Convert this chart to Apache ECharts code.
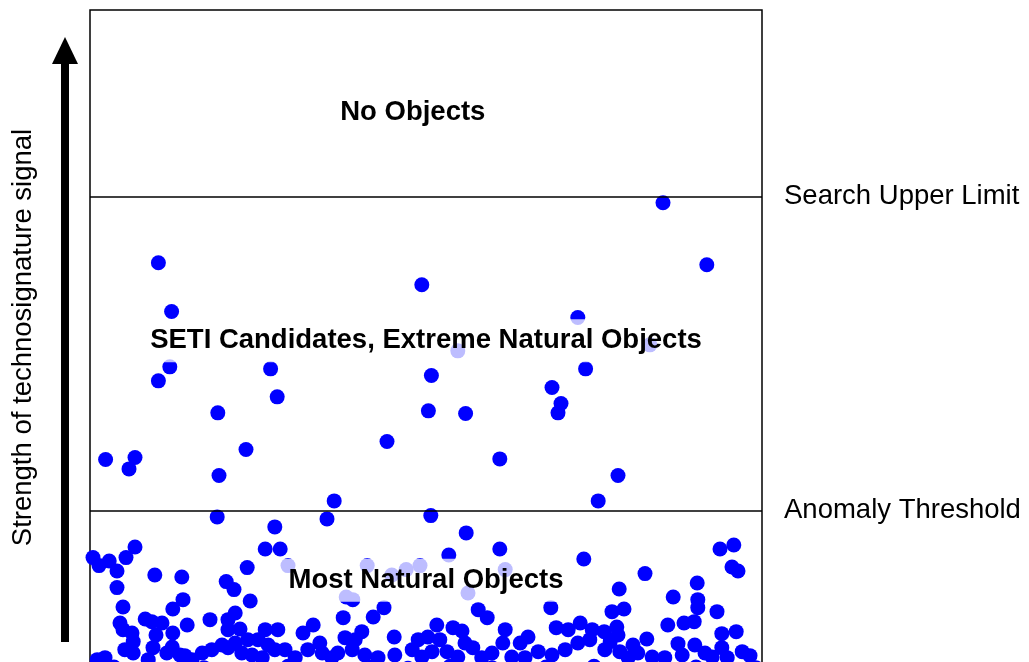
<!DOCTYPE html>
<html>
<head>
<meta charset="utf-8">
<title>Technosignature search regions</title>
<script src="https://cdn.jsdelivr.net/npm/echarts@6/dist/echarts.min.js"></script>
<style>
    html, body { margin: 0; padding: 0; background: #fff; }
    #chart { width: 1029px; height: 662px; }
</style>
</head>
<body>
<div id="chart"></div>
<script>
    // objects above the anomaly threshold
    var candidates = [
        [95.5,71.1],[11.4,62.1],[102.8,61.8],[55.3,58.8],[13.6,54.8],[81.3,53.9],[61.3,48.9],[93.3,49.8],
        [13.3,46.5],[11.4,44.4],[30.1,46.2],[56.9,45.2],[82.6,46.2],[31.2,42.0],[77.0,43.4],[78.5,41.0],
        [78.0,39.6],[21.3,39.6],[56.4,39.9],[62.6,39.5],[49.5,35.3],[26.0,34.1],[2.6,32.6],[7.5,32.9],
        [6.5,31.2],[68.3,32.7],[21.5,30.2],[88.0,30.2],[40.7,26.4],[84.7,26.4]
    ];

    // most natural objects, below the threshold
    var natural = [
        [21.2,24.0],[39.5,23.7],[56.8,24.2],[30.8,22.5],[62.7,21.6],[7.5,19.5],[29.2,19.2],[31.7,19.2],
        [68.3,19.2],[59.8,18.3],[82.3,17.7],[105.0,19.2],[107.3,19.8],[107.0,16.5],[108.0,15.9],[92.5,15.5],
        [0.5,17.9],[1.5,16.7],[3.2,17.4],[4.5,15.9],[4.5,13.4],[6.0,17.9],[10.8,15.3],[15.3,15.0],
        [22.7,14.3],[24.0,13.1],[26.2,16.4],[33.0,16.7],[46.2,16.7],[50.3,15.3],[52.7,16.1],[55.0,16.7],
        [69.2,16.1],[63.0,12.6],[42.7,12.0],[43.8,11.6],[88.2,13.2],[101.2,14.1],[97.2,12.0],[101.3,11.6],
        [101.3,10.4],
        [26.7,11.4],[15.5,11.6],[13.8,10.2],[5.5,10.5],[9.2,8.7],[10.3,8.3],[12.0,8.1],[16.2,7.8],
        [20.0,8.6],[24.2,9.6],[23.0,8.6],[5.0,8.1],[5.5,7.1],[7.0,6.6],[11.0,6.3],[13.8,6.6],
        [23.0,7.1],[25.0,7.2],[7.2,5.3],[26.3,5.6],[10.5,4.4],[5.8,4.1],[7.2,3.6],[13.7,4.5],
        [12.8,3.6],[15.0,3.3],[15.8,3.2],[18.7,3.6],[20.3,4.1],[22.0,4.8],[23.0,4.4],[24.2,5.1],
        [25.3,3.6],[2.5,2.9],[1.2,2.6],[27.0,3.3],[9.7,2.6],[17.0,2.6],
        [42.2,8.9],[47.2,9.0],[49.0,10.4],[50.7,6.0],[29.2,7.1],[31.3,7.1],[35.5,6.6],[37.2,7.8],
        [38.3,5.1],[42.5,5.9],[45.3,6.8],[44.2,5.6],[28.0,5.6],[29.7,4.8],[32.5,4.1],[30.8,4.1],
        [36.3,4.1],[38.7,3.6],[41.3,3.6],[43.7,4.1],[45.8,3.3],[48.0,2.9],[50.8,3.3],[53.7,4.1],
        [54.7,5.6],[55.3,3.0],[28.7,2.9],[34.2,2.9],[40.3,2.9],
        [64.7,10.1],[66.2,8.9],[76.8,10.4],[57.8,7.8],[60.5,7.4],[62.0,6.9],[69.2,7.1],[77.7,7.4],
        [79.7,7.1],[81.7,8.1],[83.7,7.1],[73.0,6.0],[71.7,5.1],[68.8,5.1],[62.5,5.1],[63.8,4.4],
        [58.3,5.6],[56.3,6.0],[57.0,3.8],[59.5,3.8],[61.3,3.0],[67.0,3.6],[70.3,3.0],[74.7,3.8],
        [77.0,3.3],[79.2,4.1],[81.3,5.1],[83.3,5.6],[65.3,2.9],[72.5,2.9],
        [87.0,9.8],[89.0,10.2],[104.5,9.8],[96.3,7.8],[99.0,8.1],[100.7,8.3],[105.3,6.5],[107.7,6.8],
        [87.8,7.5],[85.7,6.8],[88.0,6.3],[92.8,5.7],[86.7,5.3],[90.5,4.8],[98.0,5.0],[100.8,4.8],
        [105.3,4.4],[85.8,4.1],[88.3,3.8],[91.3,3.6],[93.7,3.0],[95.8,2.9],[98.7,3.3],[102.5,3.6],
        [103.7,3.0],[108.7,3.8],[110.0,3.2],[89.7,2.9],[106.2,2.9],
        [4.0,1.5],[19.0,1.4],[33.0,1.6],[47.0,1.5],[53.0,1.3],[60.0,1.6],[67.0,1.4],[76.0,1.5],
        [84.0,1.6],[94.0,1.3],[101.0,1.5],[111.0,1.4]
    ];

    var limitNames = ['Search Upper Limit', 'Anomaly Threshold'];
    var limitValues = [72, 25];

    var regionNames = ['No Objects', 'SETI Candidates, Extreme Natural Objects', 'Most Natural Objects'];
    var regionX = [53.8, 56.0, 56.0];
    var regionY = [84.7, 50.4, 14.5];

    var axisTitle = 'Strength of technosignature signal';

    var fontFamily = '"Liberation Sans", Arial, Helvetica, sans-serif';
    var myChart = echarts.init(document.getElementById('chart'));

    var option = {
        backgroundColor: '#fff',
        animation: false,
        grid: {
            left: 90, top: 10, width: 672, height: 667,
            outerBoundsMode: 'none',
            containLabel: false,
            show: true, borderColor: '#000', borderWidth: 1.5, backgroundColor: 'transparent'
        },
        xAxis: {
            type: 'value', min: 0, max: 112, show: false
        },
        yAxis: {
            type: 'value', min: 0, max: 100,
            name: axisTitle,
            nameLocation: 'middle',
            nameRotate: 90,
            nameGap: 53,
            nameTextStyle: { fontFamily: fontFamily, fontSize: 27.5, color: '#000', padding: [0, 0, 0, 12] },
            axisLine: { show: false },
            axisTick: { show: false },
            axisLabel: { show: false },
            splitLine: { show: false }
        },
        graphic: [
            // arrow beside the axis title
            { type: 'line', shape: { x1: 65, y1: 642, x2: 65, y2: 58 }, style: { stroke: '#000', lineWidth: 8 } },
            { type: 'polygon', shape: { points: [[52, 64], [78, 64], [65, 37]] }, style: { fill: '#000' } }
        ],
        series: [
            {
                name: 'objects',
                type: 'scatter',
                symbolSize: 15,
                itemStyle: { color: '#0000ff', opacity: 1 },
                data: natural.concat(candidates),
                z: 2,
                markLine: {
                    silent: true,
                    symbol: 'none',
                    lineStyle: { color: '#000', width: 1.5, type: 'solid' },
                    label: {
                        show: true, position: 'end', distance: 22, formatter: '{b}',
                        fontFamily: fontFamily, fontSize: 27.5, color: '#000',
                        padding: [6, 0, 0, 0]
                    },
                    data: limitValues.map(function (v, i) { return { name: limitNames[i], yAxis: v }; })
                }
            },
            {
                name: 'regions',
                type: 'scatter',
                symbolSize: 0,
                z: 5,
                itemStyle: { color: '#000' },
                data: regionNames.map(function (n, i) { return { name: n, value: [regionX[i], regionY[i]] }; }),
                label: {
                    show: true, position: 'inside', formatter: '{b}',
                    fontFamily: fontFamily, fontSize: 27.5, fontWeight: 'bold', color: '#000',
                    textBorderWidth: 0, textBorderColor: 'transparent', opacity: 1,
                    backgroundColor: 'rgba(255,255,255,0.74)', padding: [6, 10, 9, 10]
                }
            }
        ]
    };

    myChart.setOption(option);
</script>
</body>
</html>
